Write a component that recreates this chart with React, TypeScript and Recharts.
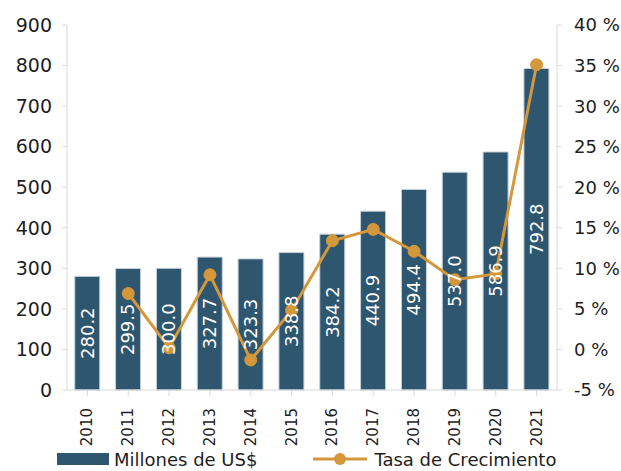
import React from 'react';
import {
  ComposedChart,
  Bar,
  Line,
  XAxis,
  YAxis,
  Legend,
  LabelList
} from 'recharts';

const years = ['2010', '2011', '2012', '2013', '2014', '2015', '2016', '2017', '2018', '2019', '2020', '2021'];
const millones = [280.2, 299.5, 300.0, 327.7, 323.3, 338.8, 384.2, 440.9, 494.4, 537.0, 586.9, 792.8];
const crecimiento = [null, 6.9, 0.2, 9.2, -1.3, 4.8, 13.4, 14.8, 12.1, 8.6, 9.3, 35.1];
const leftTicks = [0, 100, 200, 300, 400, 500, 600, 700, 800, 900];
const rightTicks = [-5, 0, 5, 10, 15, 20, 25, 30, 35, 40];

const data = years.map((year, i) => ({
  year,
  millones: millones[i],
  crecimiento: crecimiento[i]
}));

const BAR_COLOR = '#2e566e';
const LINE_COLOR = '#d4973b';
const TEXT_COLOR = '#1e1e1e';
const AXIS_COLOR = '#d9d9d9';
const FONT = '"DejaVu Sans", sans-serif';

const YearTick = ({ x, y, payload }: any) => (
  <text
    x={x}
    y={y + 10}
    transform={`rotate(-90, ${x}, ${y + 10})`}
    textAnchor="end"
    dominantBaseline="central"
    fontSize={15}
    fontFamily={FONT}
    fill={TEXT_COLOR}
  >
    {payload.value}
  </text>
);

const CustomLegend = () => (
  <div
    style={{
      display: 'flex',
      alignItems: 'center',
      height: 24,
      fontFamily: FONT,
      fontSize: 18,
      color: TEXT_COLOR,
      paddingLeft: 57
    }}
  >
    <span style={{ display: 'inline-block', width: 52, height: 12, background: BAR_COLOR, marginRight: 5 }} />
    <span>Millones de US$</span>
    <svg width={54} height={14} style={{ marginLeft: 56, marginRight: 7 }}>
      <line x1={0} y1={7} x2={54} y2={7} stroke={LINE_COLOR} strokeWidth={3} />
      <circle cx={27} cy={7} r={6} fill={LINE_COLOR} />
    </svg>
    <span>Tasa de Crecimiento</span>
  </div>
);

const App: React.FC = () => {
  return (
    <div style={{ position: 'fixed', left: 0, top: 0, background: '#fff' }}>
      <ComposedChart
        width={621}
        height={471}
        data={data}
        margin={{ top: 25, right: 0, left: 0, bottom: 0 }}
        barCategoryGap="19%"
      >
        <XAxis
          dataKey="year"
          xAxisId="x"
          interval={0}
          tick={<YearTick />}
          tickLine={{ stroke: AXIS_COLOR }}
          axisLine={{ stroke: AXIS_COLOR }}
          height={57}
        />
        <YAxis
          yAxisId="left"
          orientation="left"
          width={67}
          domain={[0, 900]}
          ticks={leftTicks}
          interval={0}
          tick={{ fontSize: 19, fontFamily: FONT, fill: TEXT_COLOR }}
          tickLine={{ stroke: AXIS_COLOR }}
          axisLine={{ stroke: AXIS_COLOR }}
          tickSize={5}
          tickMargin={10}
        />
        <YAxis
          yAxisId="right"
          orientation="right"
          width={64}
          domain={[-5, 40]}
          ticks={rightTicks}
          interval={0}
          tickFormatter={(v: number) => `${v} %`}
          tick={{ fontSize: 18, fontFamily: FONT, fill: TEXT_COLOR }}
          tickLine={{ stroke: AXIS_COLOR }}
          axisLine={{ stroke: AXIS_COLOR }}
          tickSize={5}
          tickMargin={12}
        />
        <Legend verticalAlign="bottom" content={<CustomLegend />} />
        <Bar
          dataKey="millones"
          xAxisId="x"
          yAxisId="left"
          fill={BAR_COLOR}
          stroke="#c5d0d8"
          strokeWidth={1}
          isAnimationActive={false}
        >
          <LabelList
            dataKey="millones"
            position="center"
            angle={-90}
            fill="#ffffff"
            fontSize={18}
            fontFamily={FONT}
            formatter={(v: any) => Number(v).toFixed(1)}
          />
        </Bar>
        <Line
          dataKey="crecimiento"
          xAxisId="x"
          yAxisId="right"
          stroke={LINE_COLOR}
          strokeWidth={3}
          dot={{ r: 6, fill: LINE_COLOR, stroke: LINE_COLOR, strokeWidth: 1 }}
          activeDot={false}
          isAnimationActive={false}
        />
      </ComposedChart>
    </div>
  );
};

export default App;
